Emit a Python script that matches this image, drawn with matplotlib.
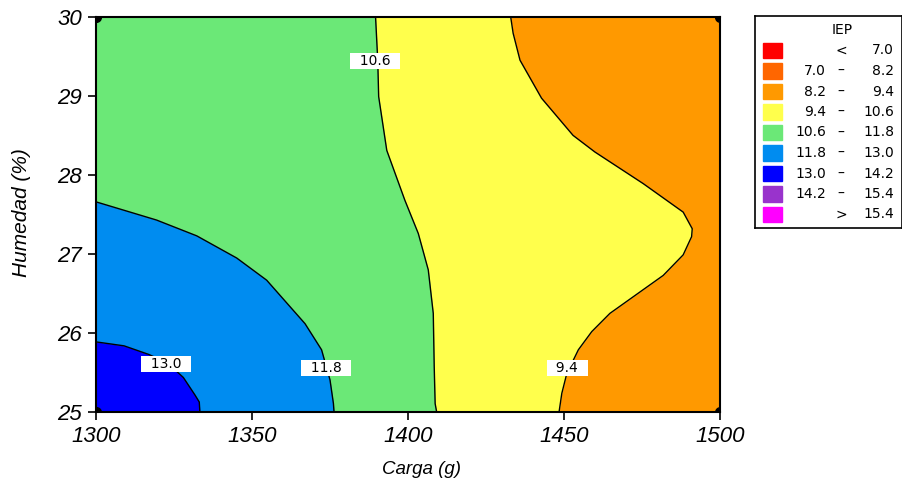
"""Contour map of IEP versus Carga and Humedad, drawn from traced contour lines."""

import matplotlib
matplotlib.use('Agg')
import matplotlib.pyplot as plt
from matplotlib.patches import Rectangle

# Axis ranges and ticks
carga_range = [1300, 1500]
humedad_range = [25, 30]
carga_ticks = [1300, 1350, 1400, 1450, 1500]
humedad_ticks = [25, 26, 27, 28, 29, 30]

# Contour levels and band colours (legend order)
levels = [7.0, 8.2, 9.4, 10.6, 11.8, 13.0, 14.2, 15.4]
band_colors = ['#ff0000', '#ff6600', '#ff9900', '#ffff4c', '#6be877',
               '#008cf0', '#0000ff', '#9933cc', '#ff00ff']

# Traced contour lines (carga, humedad), top to bottom
c94_x = [1432.9, 1433.7, 1435.9, 1442.8, 1452.9, 1459.9, 1475.4, 1488.2, 1491.1,
         1490.9, 1488.2, 1481.8, 1464.7, 1458.9, 1454.6, 1450.9, 1449.3, 1448.4]
c94_y = [30.0, 29.79, 29.45, 28.97, 28.50, 28.29, 27.89, 27.53, 27.32,
         27.22, 26.99, 26.73, 26.25, 26.02, 25.79, 25.49, 25.24, 25.0]

c106_x = [1389.6, 1390.3, 1390.6, 1393.2, 1399.0, 1403.3, 1406.5, 1408.1, 1408.4, 1408.7, 1409.2]
c106_y = [30.0, 29.45, 28.99, 28.31, 27.68, 27.26, 26.80, 26.25, 25.58, 25.11, 25.0]

c118_x = [1300.0, 1319.4, 1332.3, 1345.1, 1354.7, 1367.0, 1372.3, 1375.0, 1376.1, 1376.3]
c118_y = [27.66, 27.43, 27.23, 26.95, 26.67, 26.12, 25.79, 25.41, 25.11, 25.0]

c130_x = [1300.0, 1309.0, 1317.0, 1323.0, 1328.0, 1331.7, 1333.1, 1333.3]
c130_y = [25.89, 25.84, 25.73, 25.62, 25.44, 25.22, 25.13, 25.0]

# Contour labels
label_text = ['10.6', '13.0', '11.8', '9.4']
label_x = [1389.4, 1322.4, 1373.7, 1451.0]
label_y = [29.44, 25.61, 25.56, 25.56]

# Design points
design_x = [1300, 1300, 1500, 1500]
design_y = [25, 30, 25, 30]

W, H = 903, 479
fig = plt.figure(figsize=(W / 100, H / 100), dpi=100)
ax = fig.add_axes([96 / W, (H - 412.3) / H, 624 / W, 395.6 / H])

# Layered fills: each band painted over the previous one, left of its line
ax.set_facecolor(band_colors[2])
lines = [(c94_x, c94_y, band_colors[3]), (c106_x, c106_y, band_colors[4]),
         (c118_x, c118_y, band_colors[5]), (c130_x, c130_y, band_colors[6])]
for lx, ly, col in lines:
    ax.fill_betweenx(ly, carga_range[0], lx, color=col, lw=0, zorder=1)
for lx, ly, col in lines:
    ax.plot(lx, ly, color='black', lw=1, zorder=2)

for txt, x, y in zip(label_text, label_x, label_y):
    ax.text(x, y, '  ' + txt + '  ', ha='center', va='center', fontsize=10,
            family='DejaVu Sans', zorder=3,
            bbox=dict(boxstyle='square,pad=0.05', fc='white', ec='none'))

ax.plot(design_x, design_y, 'o', color='black', ms=7, zorder=4, clip_on=True)

ax.set_xlim(carga_range)
ax.set_ylim(humedad_range)
ax.set_xticks(carga_ticks)
ax.set_yticks(humedad_ticks)
ax.tick_params(direction='out', length=6, width=1.2, pad=4, labelsize=16)
for lab in ax.get_xticklabels() + ax.get_yticklabels():
    lab.set_family('Liberation Sans')
    lab.set_style('italic')
for sp in ax.spines.values():
    sp.set_linewidth(1.5)

ax.set_xlabel('Carga (g)', fontsize=13.5, family='Liberation Sans', style='italic')
ax.xaxis.set_label_coords(0.521, -0.122)
ax.set_ylabel('Humedad (%)', fontsize=15, family='Liberation Sans', style='italic')
ax.yaxis.set_label_coords(-0.104, 0.505)

# Legend drawn by hand in pixel units
lx0, ly0, lw_, lh_ = 755, 15.7, 147, 212
leg = fig.add_axes([lx0 / W, (H - ly0 - lh_) / H, lw_ / W, lh_ / H])
leg.set_xlim(0, lw_)
leg.set_ylim(lh_, 0)
leg.set_xticks([])
leg.set_yticks([])
for sp in leg.spines.values():
    sp.set_linewidth(1.2)
leg.text(87, 14.5, 'IEP', ha='center', va='center', fontsize=10, family='DejaVu Sans')
for i, col in enumerate(band_colors):
    yc = 34.8 + i * 20.5
    leg.add_patch(Rectangle((7.7, yc - 7.8), 19.6, 15.6, color=col))
    if i == 0:
        left, mid, right = '', '<', f'{levels[0]:.1f}'
    elif i == len(band_colors) - 1:
        left, mid, right = '', '>', f'{levels[-1]:.1f}'
    else:
        left, mid, right = f'{levels[i - 1]:.1f}', '\u2013', f'{levels[i]:.1f}'
    leg.text(71, yc, left, ha='right', va='center', fontsize=10, family='DejaVu Sans')
    leg.text(86, yc, mid, ha='center', va='center', fontsize=10, family='DejaVu Sans')
    leg.text(139, yc, right, ha='right', va='center', fontsize=10, family='DejaVu Sans')

fig.savefig('out.png', dpi=100)
